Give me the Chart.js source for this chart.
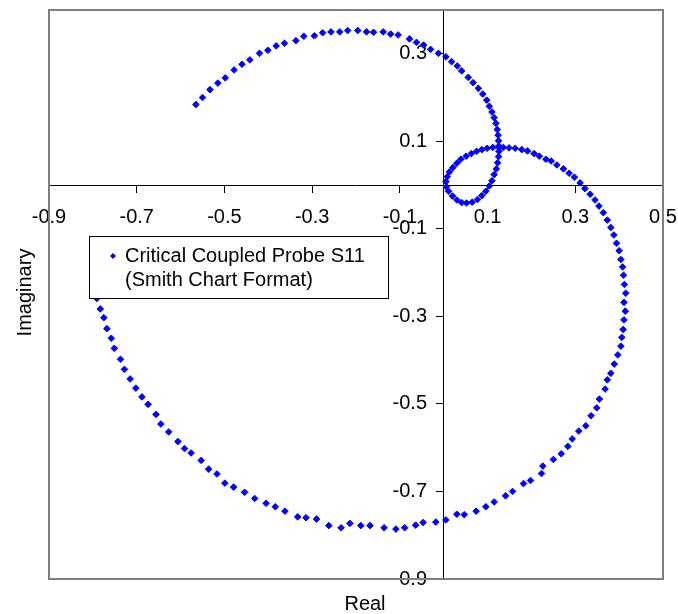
<!DOCTYPE html>
<html lang="en">
<head>
  <meta charset="UTF-8">
  <title>Critical Coupled Probe S11</title>
  <style>
    body {
      margin: 0;
      background: #ffffff;
    }
    #s11-chart {
      display: block;
    }
  </style>
</head>
<body>
  <canvas id="s11-chart" width="678" height="614"></canvas>

  <script src="https://cdn.jsdelivr.net/npm/chart.js"></script>
  <script>
    // S11 reflection coefficient (real / imaginary parts)
    const realPart = [
      -0.565, -0.550, -0.533, -0.515, -0.498, -0.478, -0.460, -0.442, -0.420, -0.401,
      -0.382, -0.363, -0.337, -0.319, -0.295, -0.276, -0.257, -0.237, -0.219, -0.196,
      -0.176, -0.160, -0.138, -0.121, -0.104, -0.078, -0.062, -0.046, -0.030, -0.012,
      0.005, 0.018, 0.031, 0.041, 0.056, 0.067, 0.079, 0.089, 0.098, 0.104,
      0.110, 0.115, 0.119, 0.122, 0.124, 0.125, 0.126, 0.126, 0.125, 0.123,
      0.120, 0.115, 0.110, 0.104, 0.096, 0.087, 0.077, 0.065, 0.052, 0.041,
      0.030, 0.020, 0.011, 0.006, 0.005, 0.008, 0.013, 0.021, 0.030, 0.039,
      0.051, 0.063, 0.075, 0.087, 0.099, 0.112, 0.124, 0.136, 0.149, 0.163,
      0.178, 0.191, 0.206, 0.218, 0.233, 0.245, 0.258, 0.273, 0.286, 0.298,
      0.311, 0.322, 0.334, 0.345, 0.354, 0.364, 0.373, 0.381, 0.388, 0.394,
      0.400, 0.404, 0.408, 0.410, 0.412, 0.415, 0.411, 0.414, 0.411, 0.409,
      0.406, 0.404, 0.397, 0.389, 0.381, 0.373, 0.368, 0.355, 0.349, 0.336,
      0.324, 0.308, 0.293, 0.283, 0.268, 0.250, 0.226, 0.223, 0.198, 0.182,
      0.157, 0.141, 0.115, 0.096, 0.074, 0.047, 0.030, 0.005, -0.018, -0.047,
      -0.064, -0.089, -0.109, -0.136, -0.168, -0.189, -0.214, -0.234, -0.262, -0.290,
      -0.314, -0.333, -0.362, -0.384, -0.405, -0.431, -0.454, -0.479, -0.499, -0.517,
      -0.536, -0.553, -0.576, -0.591, -0.606, -0.627, -0.645, -0.656, -0.674, -0.688,
      -0.702, -0.715, -0.728, -0.737, -0.751, -0.758, -0.768, -0.775, -0.783, -0.791
    ];
    const imagPart = [
      0.184, 0.200, 0.218, 0.233, 0.245, 0.263, 0.276, 0.286, 0.301, 0.308,
      0.318, 0.324, 0.330, 0.340, 0.341, 0.348, 0.350, 0.350, 0.353, 0.353,
      0.350, 0.349, 0.350, 0.345, 0.343, 0.334, 0.326, 0.320, 0.310, 0.301,
      0.293, 0.282, 0.272, 0.261, 0.246, 0.234, 0.221, 0.208, 0.194, 0.180,
      0.167, 0.154, 0.141, 0.127, 0.114, 0.101, 0.089, 0.077, 0.065, 0.051,
      0.037, 0.024, 0.010, -0.002, -0.014, -0.024, -0.033, -0.039, -0.041, -0.040,
      -0.034, -0.025, -0.014, -0.004, 0.008, 0.019, 0.030, 0.040, 0.050, 0.059,
      0.066, 0.072, 0.077, 0.081, 0.084, 0.086, 0.087, 0.086, 0.085, 0.084,
      0.081, 0.078, 0.072, 0.066, 0.059, 0.055, 0.046, 0.037, 0.027, 0.018,
      0.005, -0.008, -0.021, -0.034, -0.048, -0.063, -0.080, -0.097, -0.114, -0.133,
      -0.150, -0.170, -0.187, -0.206, -0.227, -0.247, -0.268, -0.288, -0.308, -0.330,
      -0.348, -0.368, -0.388, -0.409, -0.430, -0.445, -0.466, -0.489, -0.509, -0.527,
      -0.550, -0.562, -0.580, -0.597, -0.614, -0.627, -0.642, -0.659, -0.675, -0.682,
      -0.700, -0.710, -0.724, -0.735, -0.745, -0.753, -0.752, -0.765, -0.770, -0.771,
      -0.777, -0.783, -0.786, -0.783, -0.778, -0.778, -0.773, -0.783, -0.778, -0.763,
      -0.760, -0.758, -0.745, -0.735, -0.727, -0.716, -0.702, -0.690, -0.681, -0.660,
      -0.649, -0.629, -0.612, -0.602, -0.586, -0.564, -0.546, -0.524, -0.501, -0.484,
      -0.464, -0.443, -0.421, -0.398, -0.373, -0.350, -0.328, -0.303, -0.283, -0.259
    ];

    const xTickValues = [-0.9, -0.7, -0.5, -0.3, -0.1, 0.1, 0.3, 0.5];
    const yTickValues = [-0.9, -0.7, -0.5, -0.3, -0.1, 0.1, 0.3];
    const seriesLabel = ["Critical Coupled Probe S11", "(Smith Chart Format)"];
    const xTitle = "Real";
    const yTitle = "Imaginary";

    const FONT = "'Liberation Sans', Arial, sans-serif";
    const BLUE = "#0000ff";

    const points = realPart.map((re, i) => ({ x: re, y: imagPart[i] }));

    // frame, axis titles and the boxed legend (drawn on top of the markers)
    const decorations = {
      id: "decorations",
      afterDraw(chart) {
        const { ctx, chartArea: a } = chart;
        ctx.save();

        ctx.strokeStyle = "#7f7f7f";
        ctx.lineWidth = 2;
        ctx.strokeRect(a.left, a.top, a.right - a.left, a.bottom - a.top);

        ctx.fillStyle = "#000";
        ctx.font = "20px " + FONT;
        ctx.textAlign = "center";
        ctx.textBaseline = "middle";
        ctx.fillText(xTitle, (a.left + a.right) / 2 + 9, a.bottom + 25);

        ctx.save();
        ctx.translate(25, (a.top + a.bottom) / 2 - 2);
        ctx.rotate(-Math.PI / 2);
        ctx.fillText(yTitle, 0, 0);
        ctx.restore();

        // legend box
        const lx = a.left + 40, ly = a.top + 226, lw = 299, lh = 62;
        ctx.fillStyle = "#fff";
        ctx.fillRect(lx, ly, lw, lh);
        ctx.strokeStyle = "#000";
        ctx.lineWidth = 1;
        ctx.strokeRect(lx + 0.5, ly + 0.5, lw, lh);

        ctx.fillStyle = BLUE;
        ctx.beginPath();
        const mx = lx + 24, my = ly + 20, r = 3;
        ctx.moveTo(mx - r, my);
        ctx.lineTo(mx, my - r);
        ctx.lineTo(mx + r, my);
        ctx.lineTo(mx, my + r);
        ctx.closePath();
        ctx.fill();

        ctx.fillStyle = "#000";
        ctx.textAlign = "left";
        ctx.fillText(seriesLabel[0], lx + 36, ly + 20);
        ctx.fillText(seriesLabel[1], lx + 36, ly + 44);

        ctx.restore();
      }
    };

    const tickFont = { family: FONT, size: 20 };

    new Chart(document.getElementById("s11-chart"), {
      type: "scatter",
      data: {
        datasets: [{
          label: seriesLabel.join(" "),
          data: points,
          showLine: false,
          pointStyle: "rectRot",
          pointRadius: 3.3,
          pointBorderWidth: 1,
          backgroundColor: BLUE,
          borderColor: BLUE
        }]
      },
      options: {
        responsive: false,
        animation: false,
        layout: { padding: { left: 49, right: 15, top: 10, bottom: 35 } },
        plugins: {
          legend: { display: false },
          tooltip: { enabled: false }
        },
        scales: {
          x: {
            type: "linear",
            min: -0.9,
            max: 0.5,
            position: { y: 0 },
            afterBuildTicks: s => { s.ticks = xTickValues.map(v => ({ value: v })); },
            afterFit: s => { s.paddingLeft = 0; s.paddingRight = 0; },
            grid: { display: true, drawOnChartArea: false, drawTicks: true, tickLength: 7, color: "#000" },
            border: { display: true, color: "#000", width: 1 },
            ticks: { color: "#000", font: tickFont, padding: 13, maxRotation: 0, autoSkip: false,
                     callback: v => v.toFixed(1) }
          },
          y: {
            type: "linear",
            min: -0.9,
            max: 0.4,
            position: { x: 0 },
            afterBuildTicks: s => { s.ticks = yTickValues.map(v => ({ value: v })); },
            afterFit: s => { s.paddingTop = 0; s.paddingBottom = 0; },
            grid: { display: true, drawOnChartArea: false, drawTicks: true, tickLength: 7, color: "#000" },
            border: { display: true, color: "#000", width: 1 },
            // centred axes ignore ticks.padding, so trailing spaces keep labels clear of the tick marks
            ticks: { color: "#000", font: tickFont, autoSkip: false,
                     callback: v => v.toFixed(1) + "   " }
          }
        }
      },
      plugins: [decorations]
    });
  </script>
</body>
</html>
